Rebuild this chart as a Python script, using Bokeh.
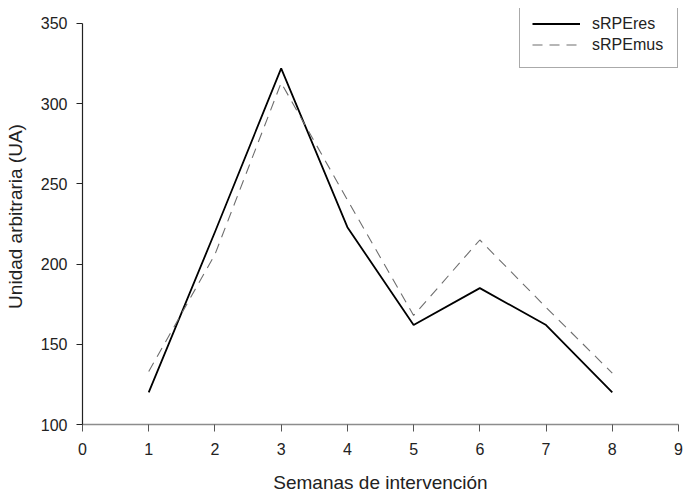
from bokeh.plotting import figure
from bokeh.models import Range1d, FixedTicker, Legend, LegendItem
from bokeh.embed import file_html
from bokeh.resources import INLINE

semanas = [1, 2, 3, 4, 5, 6, 7, 8]
srpe_res = [120, 220, 322, 223, 162, 185, 162, 120]
srpe_mus = [133, 206, 313, 240, 168, 215, 173, 132]
x_ticks = [0, 1, 2, 3, 4, 5, 6, 7, 8, 9]
y_ticks = [100, 150, 200, 250, 300, 350]

FONT = "Liberation Sans"

p = figure(width=686, height=495, output_backend="svg", toolbar_location=None,
           x_range=Range1d(0, 9), y_range=Range1d(100, 359.3))
p.min_border_left = 82
p.min_border_right = 8
p.min_border_top = 8
p.min_border_bottom = 67
p.outline_line_color = None
p.xgrid.visible = False
p.ygrid.visible = False
p.background_fill_color = "white"
p.border_fill_color = "white"

r1 = p.line(semanas, srpe_res, line_color="black", line_width=1.8)
r2 = p.line(semanas, srpe_mus, line_color="#6e6e6e", line_width=1.1, line_dash="10 7")

xa = p.xaxis[0]
xa.ticker = FixedTicker(ticks=x_ticks)
xa.axis_line_color = "#8c8c8c"
xa.axis_line_width = 1.6
xa.major_tick_line_color = "#555555"
xa.major_tick_in = 0
xa.major_tick_out = 7
xa.minor_tick_line_color = None
xa.major_label_text_font = FONT
xa.major_label_text_font_size = "16px"
xa.major_label_text_color = "#222222"
xa.major_label_standoff = 11
xa.axis_label = "Semanas de intervención"
xa.axis_label_text_font = FONT
xa.axis_label_text_font_size = "19px"
xa.axis_label_text_font_style = "normal"
xa.axis_label_text_color = "#222222"
xa.axis_label_standoff = 14

ya = p.yaxis[0]
ya.ticker = FixedTicker(ticks=y_ticks)
ya.bounds = (100, 350)
ya.axis_line_color = "#222222"
ya.axis_line_width = 1.2
ya.major_tick_line_color = "#222222"
ya.major_tick_in = 0
ya.major_tick_out = 6
ya.minor_tick_line_color = None
ya.major_label_text_font = FONT
ya.major_label_text_font_size = "16px"
ya.major_label_text_color = "#222222"
ya.major_label_standoff = 9
ya.axis_label = "Unidad arbitraria (UA)"
ya.axis_label_text_font = FONT
ya.axis_label_text_font_size = "19px"
ya.axis_label_text_font_style = "normal"
ya.axis_label_text_color = "#222222"
ya.axis_label_standoff = 12

legend = Legend(items=[LegendItem(label="sRPEres", renderers=[r1]),
                       LegendItem(label="sRPEmus", renderers=[r2])],
                location=(437, 356))
legend.label_text_font = FONT
legend.label_text_font_size = "16px"
legend.label_text_color = "#222222"
legend.glyph_width = 48
legend.glyph_height = 21
legend.label_height = 21
legend.label_width = 73
legend.label_standoff = 12
legend.padding = 12
legend.spacing = 0
legend.margin = 0
legend.border_line_color = "#555555"
legend.border_line_width = 1
legend.background_fill_color = "white"
legend.background_fill_alpha = 1
p.add_layout(legend)

open("out.html", "w").write(file_html(p, INLINE))
